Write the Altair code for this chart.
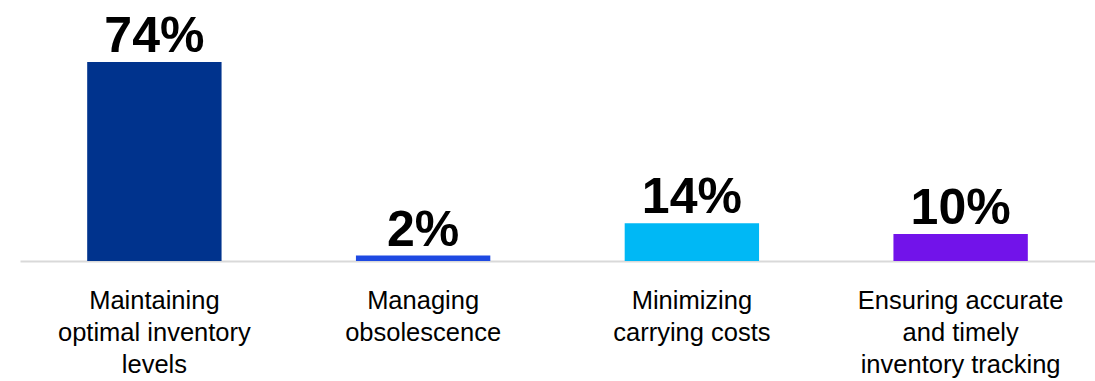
import altair as alt
import pandas as pd

categories = [
    "Maintaining\noptimal inventory\nlevels",
    "Managing\nobsolescence",
    "Minimizing\ncarrying costs",
    "Ensuring accurate\nand timely\ninventory tracking",
]
values = [74, 2, 14, 10]
colors = ["#00338D", "#1E49E2", "#00B8F5", "#7213EA"]

df = pd.DataFrame({
    "category": categories,
    "value": values,
    "label": [f"{v}%" for v in values],
})

x = alt.X(
    "category:N",
    sort=categories,
    title=None,
    scale=alt.Scale(paddingInner=0.5, paddingOuter=0.25),
    axis=alt.Axis(
        labelAngle=0,
        labelExpr="split(datum.value, '\\n')",
        labelFont="Liberation Sans, Arial, sans-serif",
        labelFontSize=25.5,
        labelLineHeight=32,
        labelColor="#000000",
        labelPadding=27,
        labelBaseline="top",
        ticks=False,
        domainColor="#d9d9d9",
        domainWidth=2,
        labelLimit=400,
    ),
)
y = alt.Y(
    "value:Q",
    title=None,
    scale=alt.Scale(domain=[0, 74], nice=False, zero=True),
    axis=None,
)

bars = alt.Chart(df).mark_bar().encode(
    x=x,
    y=y,
    color=alt.Color("category:N", sort=categories,
                    scale=alt.Scale(domain=categories, range=colors), legend=None),
)

text = alt.Chart(df).mark_text(
    baseline="alphabetic",
    dy=-10,
    font="Liberation Sans, Arial, sans-serif",
    fontWeight="bold",
    fontSize=50,
    color="#000000",
).encode(
    x=alt.X("category:N", sort=categories),
    y=alt.Y("value:Q"),
    text="label:N",
)

chart = (bars + text).properties(
    width=1075,
    height=199,
    autosize=alt.AutoSizeParams(type="none"),
    padding={"left": 20, "top": 62, "right": 0, "bottom": 120},
    background="#ffffff",
).configure_view(stroke=None)

chart.save("out.html", embed_options={"renderer": "svg", "actions": False})
